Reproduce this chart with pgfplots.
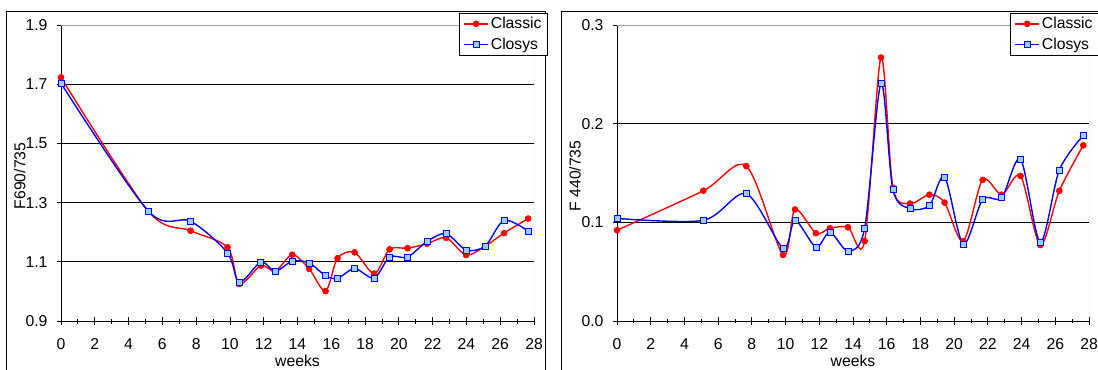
\documentclass[border=0pt]{standalone}
\usepackage{pgfplots}
\usepackage{pgfplotstable}
\pgfplotsset{compat=1.18}
\usepackage{fontspec}
\setmainfont{Liberation Sans}

\definecolor{classicred}{RGB}{255,0,0}
\definecolor{closysblue}{RGB}{0,0,255}
\definecolor{closysfill}{RGB}{153,204,255}
\definecolor{plotframe}{RGB}{160,160,160}

% F690/735 ratio per week
\pgfplotstableread{
week   classic closys
0      1.723   1.703
5.17   1.271   1.271
7.67   1.205   1.237
9.86   1.149   1.130
10.55  1.025   1.030
11.83  1.087   1.099
12.68  1.068   1.068
13.69  1.124   1.102
14.69  1.076   1.096
15.66  1.001   1.053
16.37  1.112   1.044
17.38  1.132   1.077
18.54  1.060   1.045
19.45  1.142   1.116
20.51  1.146   1.116
21.67  1.161   1.169
22.80  1.181   1.195
23.98  1.123   1.140
25.11  1.153   1.153
26.23  1.197   1.240
27.65  1.246   1.204
}\redratio

% F440/735 ratio per week
\pgfplotstableread{
week   classic closys
0      0.092   0.104
5.12   0.132   0.102
7.67   0.157   0.129
9.85   0.067   0.074
10.56  0.113   0.102
11.80  0.089   0.075
12.63  0.094   0.090
13.70  0.095   0.071
14.69  0.081   0.094
15.66  0.267   0.241
16.37  0.135   0.133
17.38  0.119   0.114
18.53  0.128   0.117
19.43  0.120   0.146
20.54  0.081   0.078
21.69  0.143   0.123
22.82  0.128   0.125
23.94  0.147   0.164
25.11  0.077   0.080
26.24  0.132   0.153
27.66  0.178   0.188
}\blueratio

\newcommand{\chartfont}{\fontsize{15.8}{18.5}\selectfont}

\pgfplotsset{
  panel/.style={
    scale only axis,
    height=296bp,
    xmin=0, xmax=28,
    xtick={0,2,...,28},
    minor x tick num=1,
    tick align=center,
    major tick length=8bp,
    minor tick length=5bp,
    axis x line*=bottom,
    axis y line*=left,
    axis line style={black, line width=0.8bp, -},
    tick style={black, line width=0.8bp},
    ymajorgrids,
    major grid style={black, line width=0.6bp},
    ticklabel style={font=\chartfont},
    xticklabel style={yshift=-12bp, inner ysep=1bp},
    yticklabel style={xshift=-6bp},
    label style={font=\chartfont},
    /pgf/number format/assume math mode=true,
    yticklabel style={/pgf/number format/.cd, fixed, fixed zerofill, precision=1},
    xlabel={weeks},
    xlabel style={at={(axis description cs:0.5,0)}, anchor=center, yshift=-40bp, inner sep=0.5bp},
    legend cell align=left,
    legend style={
      font=\chartfont,
      draw=black, line width=0.8bp,
      at={(1,1)}, anchor=north east,
      inner xsep=4bp, inner ysep=2bp,
      row sep=4bp,
    },
    legend image code/.code={
      \draw[mark repeat=2, mark phase=2, #1]
        plot coordinates {(0bp,0bp) (12bp,0bp) (24bp,0bp)};
    },
  },
  classic/.style={
    color=classicred, line width=1.4bp, smooth, tension=0.5,
    mark=*, mark size=3bp,
    mark options={fill=classicred, draw=classicred, line width=0.6bp},
  },
  closys/.style={
    color=closysblue, line width=1.4bp, smooth, tension=0.5,
    mark=square*, mark size=3bp,
    mark options={fill=closysfill, draw=closysblue, line width=0.8bp},
  },
}

\begin{document}
\begin{tikzpicture}

% chart-area frames
\draw[black, line width=0.8bp] (6bp,-10bp) rectangle (545bp,359bp);
\draw[black, line width=0.8bp] (561bp,-10bp) rectangle (1115bp,359bp);

% left panel: F690/735
\begin{axis}[
  panel,
  at={(61bp,49bp)}, anchor=south west,
  width=473bp,
  ymin=0.9, ymax=1.9,
  ytick={0.9,1.1,1.3,1.5,1.7,1.9},
  ylabel={F690/735},
  ylabel style={at={(axis description cs:-0.087,0.49)}, anchor=center, inner sep=0.5bp},
  legend style={xshift=14bp, yshift=12bp},
]
\draw[plotframe, line width=0.8bp] (rel axis cs:0,1) -- (rel axis cs:1,1) -- (rel axis cs:1,0);
\addplot[classic] table[x=week, y=classic] {\redratio};
\addlegendentry{Classic}
\addplot[closys] table[x=week, y=closys] {\redratio};
\addlegendentry{Closys}
\end{axis}

% right panel: F440/735
\begin{axis}[
  panel,
  at={(617bp,49bp)}, anchor=south west,
  width=472bp,
  ymin=0, ymax=0.3,
  ytick={0,0.1,0.2,0.3},
  ylabel={F 440/735},
  ylabel style={at={(axis description cs:-0.089,0.49)}, anchor=center, inner sep=0.5bp},
  legend style={xshift=10bp, yshift=12bp},
]
\draw[plotframe, line width=0.8bp] (rel axis cs:0,1) -- (rel axis cs:1,1) -- (rel axis cs:1,0);
\addplot[classic] table[x=week, y=classic] {\blueratio};
\addlegendentry{Classic}
\addplot[closys] table[x=week, y=closys] {\blueratio};
\addlegendentry{Closys}
\end{axis}

\pgfresetboundingbox
\path[use as bounding box] (0bp,0bp) rectangle (1098bp,370bp);
\end{tikzpicture}
\end{document}
